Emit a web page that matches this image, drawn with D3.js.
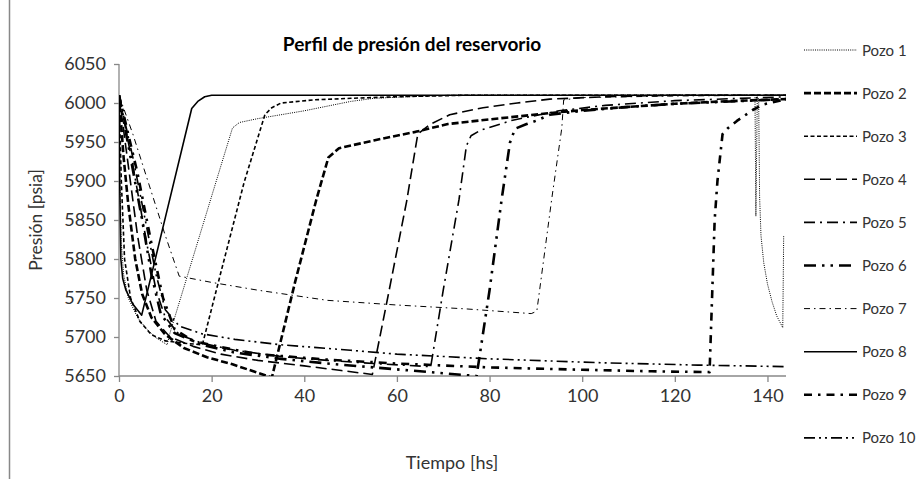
<!DOCTYPE html>
<html>
<head>
<meta charset="utf-8">
<script src="https://cdn.jsdelivr.net/npm/d3@7"></script>
<style>
  body { margin: 0; background: #fff; }
  svg text { font-family: Lato, "Liberation Sans", sans-serif; }
</style>
</head>
<body>
<svg id="chart" width="922" height="479"></svg>
<script>
// series names (legend order)
const pozoNames = ['Pozo 1','Pozo 2','Pozo 3','Pozo 4','Pozo 5','Pozo 6','Pozo 7','Pozo 8','Pozo 9','Pozo 10'];

// [tiempo hs, presion psia]
const pozo1 = [[0,6010],[0.2,5900],[0.5,5820],[1,5780],[2,5750],[4,5725],[6,5710],[8,5699],[10.4,5690],
  [11,5705],[21,5900],[24.5,5968],[26,5975],[30,5980],[35,5985],[40,5990],[45,5996],[50,6002],[55,6006],[62,6008],[72,6010],
  [137.3,6010],[137.5,5855],[137.8,6008],[138.1,6005],[138.3,5880],[138.6,5830],[139.2,5795],[140,5768],[141,5745],[142,5727],[143.3,5712],[143.5,5830]];
const pozo2 = [[0,6010],[1,5930],[2,5870],[3.5,5800],[5,5755],[7,5725],[10,5703],[14,5686],[19,5674],[24.5,5665],[29,5656],[33,5648],
  [38,5770],[42.6,5876],[45.2,5930],[47.5,5942],[55,5952],[64,5963],[71,5973],[80,5979],[93,5987],[100,5991],[110,5995],[120,5999],[130,6002],[144,6005]];
const pozo3 = [[0,6010],[0.5,5900],[1.2,5800],[2.5,5750],[4.5,5720],[7,5703],[10,5695],[14,5692],[18,5690],
  [22,5783],[27,5898],[31.5,5985],[33,5994],[35,6000],[42,6004],[50,6006],[60,6008],[75,6010],[144,6010]];
const pozo4 = [[0,6010],[2,5920],[4,5830],[6,5760],[8,5720],[11,5700],[16,5688],[22,5678],[30,5670],[40,5663],[48,5657],[54.7,5652],
  [58,5750],[62.1,5874],[64.5,5960],[67,5972],[71.4,5985],[78.6,5994],[86,6000],[93,6005],[105,6008],[120,6010],[144,6010]];
const pozo5 = [[0,6010],[3,5920],[6,5820],[8,5760],[10,5725],[13,5703],[18,5692],[25,5683],[35,5675],[45,5670],[55,5666],[67.3,5662],
  [70,5760],[73.4,5876],[75,5945],[76,5958],[78,5965],[85,5978],[95,5990],[105,5997],[120,6003],[144,6008]];
const pozo6 = [[0,6010],[2.5,5930],[5,5850],[7,5780],[9,5730],[12,5705],[18,5690],[25,5680],[35,5672],[45,5666],[55,5661],[65,5656],[77.2,5650],
  [80,5760],[82.6,5876],[84.4,5949],[85.5,5967],[88,5973],[90.4,5978],[93,5985],[100,5990],[110,5995],[120,5999],[144,6005]];
const pozo7 = [[0,6010],[3,5960],[6.5,5895],[10,5830],[13,5778],[20,5770],[30,5760],[45,5747],[60,5741],[75,5736],[89,5730],[90.2,5733],
  [93.4,5876],[95.6,5968],[96,6004],[100,6007],[120,6009],[144,6010]];
const pozo8 = [[0,6010],[0.15,5900],[0.4,5800],[0.8,5775],[1.5,5760],[3,5742],[4.9,5728],
  [10,5853],[15.7,5993],[17,6002],[18.5,6008],[20,6010],[144,6010]];
const pozo9 = [[0,6010],[4,5910],[7,5820],[9.5,5750],[12,5710],[16,5695],[22,5687],[30,5678],[45,5671],[60,5666],[80,5661],[100,5658],[115,5656],[127.5,5655],
  [128.6,5850],[129.2,5900],[130.3,5960],[131.5,5968],[133.4,5977],[136.8,5991],[139,5998],[144,6005]];
const pozo10 = [[0,6010],[3,5930],[6,5840],[8,5780],[10,5735],[13,5714],[18,5704],[25,5697],[35,5690],[50,5683],[60,5678],[80,5672],[104,5667],[125,5664],[144,5662]];

const series = [pozo1, pozo2, pozo3, pozo4, pozo5, pozo6, pozo7, pozo8, pozo9, pozo10];

const xTicks = [0, 20, 40, 60, 80, 100, 120, 140];
const yTicks = [5650, 5700, 5750, 5800, 5850, 5900, 5950, 6000, 6050];

// line look for each pozo (Excel style dashes)
const styles = [
  { w: 1,   dash: '1,1.2' },
  { w: 2.6, dash: '7,3' },
  { w: 1.6, dash: '4,2.5' },
  { w: 1.6, dash: '11,5' },
  { w: 1.6, dash: '11,5,2,5' },
  { w: 2.6, dash: '12,6,2.5,6,2.5,6' },
  { w: 1,   dash: '6,4,1.5,4' },
  { w: 1.6, dash: null },
  { w: 2.6, dash: '8,6,2.5,6' },
  { w: 1.6, dash: '11,4,2,4,2,4' }
];

const margin = {top: 64, right: 136, bottom: 103, left: 119};
const width = 922 - margin.left - margin.right;
const height = 479 - margin.top - margin.bottom;

const svg = d3.select('#chart');

// outer chart border (only left edge is visible in the picture)
svg.append('line')
  .attr('x1', 9.5).attr('x2', 9.5).attr('y1', 0).attr('y2', 479)
  .attr('stroke', '#888').attr('stroke-width', 1.5);

const g = svg.append('g')
  .attr('transform', 'translate(' + margin.left + ',' + margin.top + ')');

const x = d3.scaleLinear().domain([0, 144]).range([0, width]);
const y = d3.scaleLinear().domain([5650, 6050]).range([height, 0]);

g.append('defs').append('clipPath').attr('id', 'plotclip')
  .append('rect').attr('x', 0).attr('y', 0).attr('width', width + 1).attr('height', height);

// axes
const xAxis = g.append('g')
  .attr('transform', 'translate(0,' + height + ')')
  .call(d3.axisBottom(x).tickValues(xTicks).tickSize(6).tickPadding(7));
const yAxis = g.append('g')
  .call(d3.axisLeft(y).tickValues(yTicks).tickFormat(d3.format('d')).tickSize(5).tickPadding(8));

[xAxis, yAxis].forEach(a => {
  a.select('.domain').attr('stroke', '#888').attr('stroke-width', 1.3);
  a.selectAll('.tick line').attr('stroke', '#888').attr('stroke-width', 1.3);
  a.selectAll('.tick text').attr('fill', '#333').attr('font-size', '18px');
});
xAxis.select('.domain').attr('d', 'M0,0H' + width);
yAxis.select('.domain').attr('d', 'M0,' + height + 'V0');

// lines
const line = d3.line()
  .x(d => x(d[0]))
  .y(d => y(d[1]));

g.append('g').attr('clip-path', 'url(#plotclip)')
  .selectAll('path')
  .data(series)
  .join('path')
    .attr('fill', 'none')
    .attr('stroke', '#000')
    .attr('stroke-width', (d, i) => styles[i].w)
    .attr('stroke-dasharray', (d, i) => styles[i].dash)
    .attr('stroke-linejoin', 'round')
    .attr('d', line);

// title
svg.append('text')
  .attr('x', 412).attr('y', 51)
  .attr('text-anchor', 'middle')
  .attr('font-size', '19px')
  .attr('font-weight', 'bold')
  .attr('fill', '#000')
  .text('Perfil de presión del reservorio');

// y label
svg.append('text')
  .attr('transform', 'translate(42,' + (margin.top + height / 2) + ') rotate(-90)')
  .attr('text-anchor', 'middle')
  .attr('font-size', '17.5px')
  .attr('fill', '#333')
  .text('Presión [psia]');

// x label
svg.append('text')
  .attr('x', 452).attr('y', 469)
  .attr('text-anchor', 'middle')
  .attr('font-size', '18px')
  .attr('fill', '#333')
  .text('Tiempo [hs]');

// legend
const legend = svg.append('g')
  .selectAll('g')
  .data(pozoNames)
  .join('g')
    .attr('transform', (d, i) => 'translate(804,' + (50 + i * 43.1) + ')');

legend.append('line')
  .attr('x1', 0).attr('x2', 53).attr('y1', 0).attr('y2', 0)
  .attr('stroke', '#000')
  .attr('stroke-width', (d, i) => styles[i].w)
  .attr('stroke-dasharray', (d, i) => styles[i].dash);

legend.append('text')
  .attr('x', 58).attr('y', 5.5)
  .attr('font-size', '15px')
  .attr('fill', '#333')
  .text(d => d);
</script>
</body>
</html>
